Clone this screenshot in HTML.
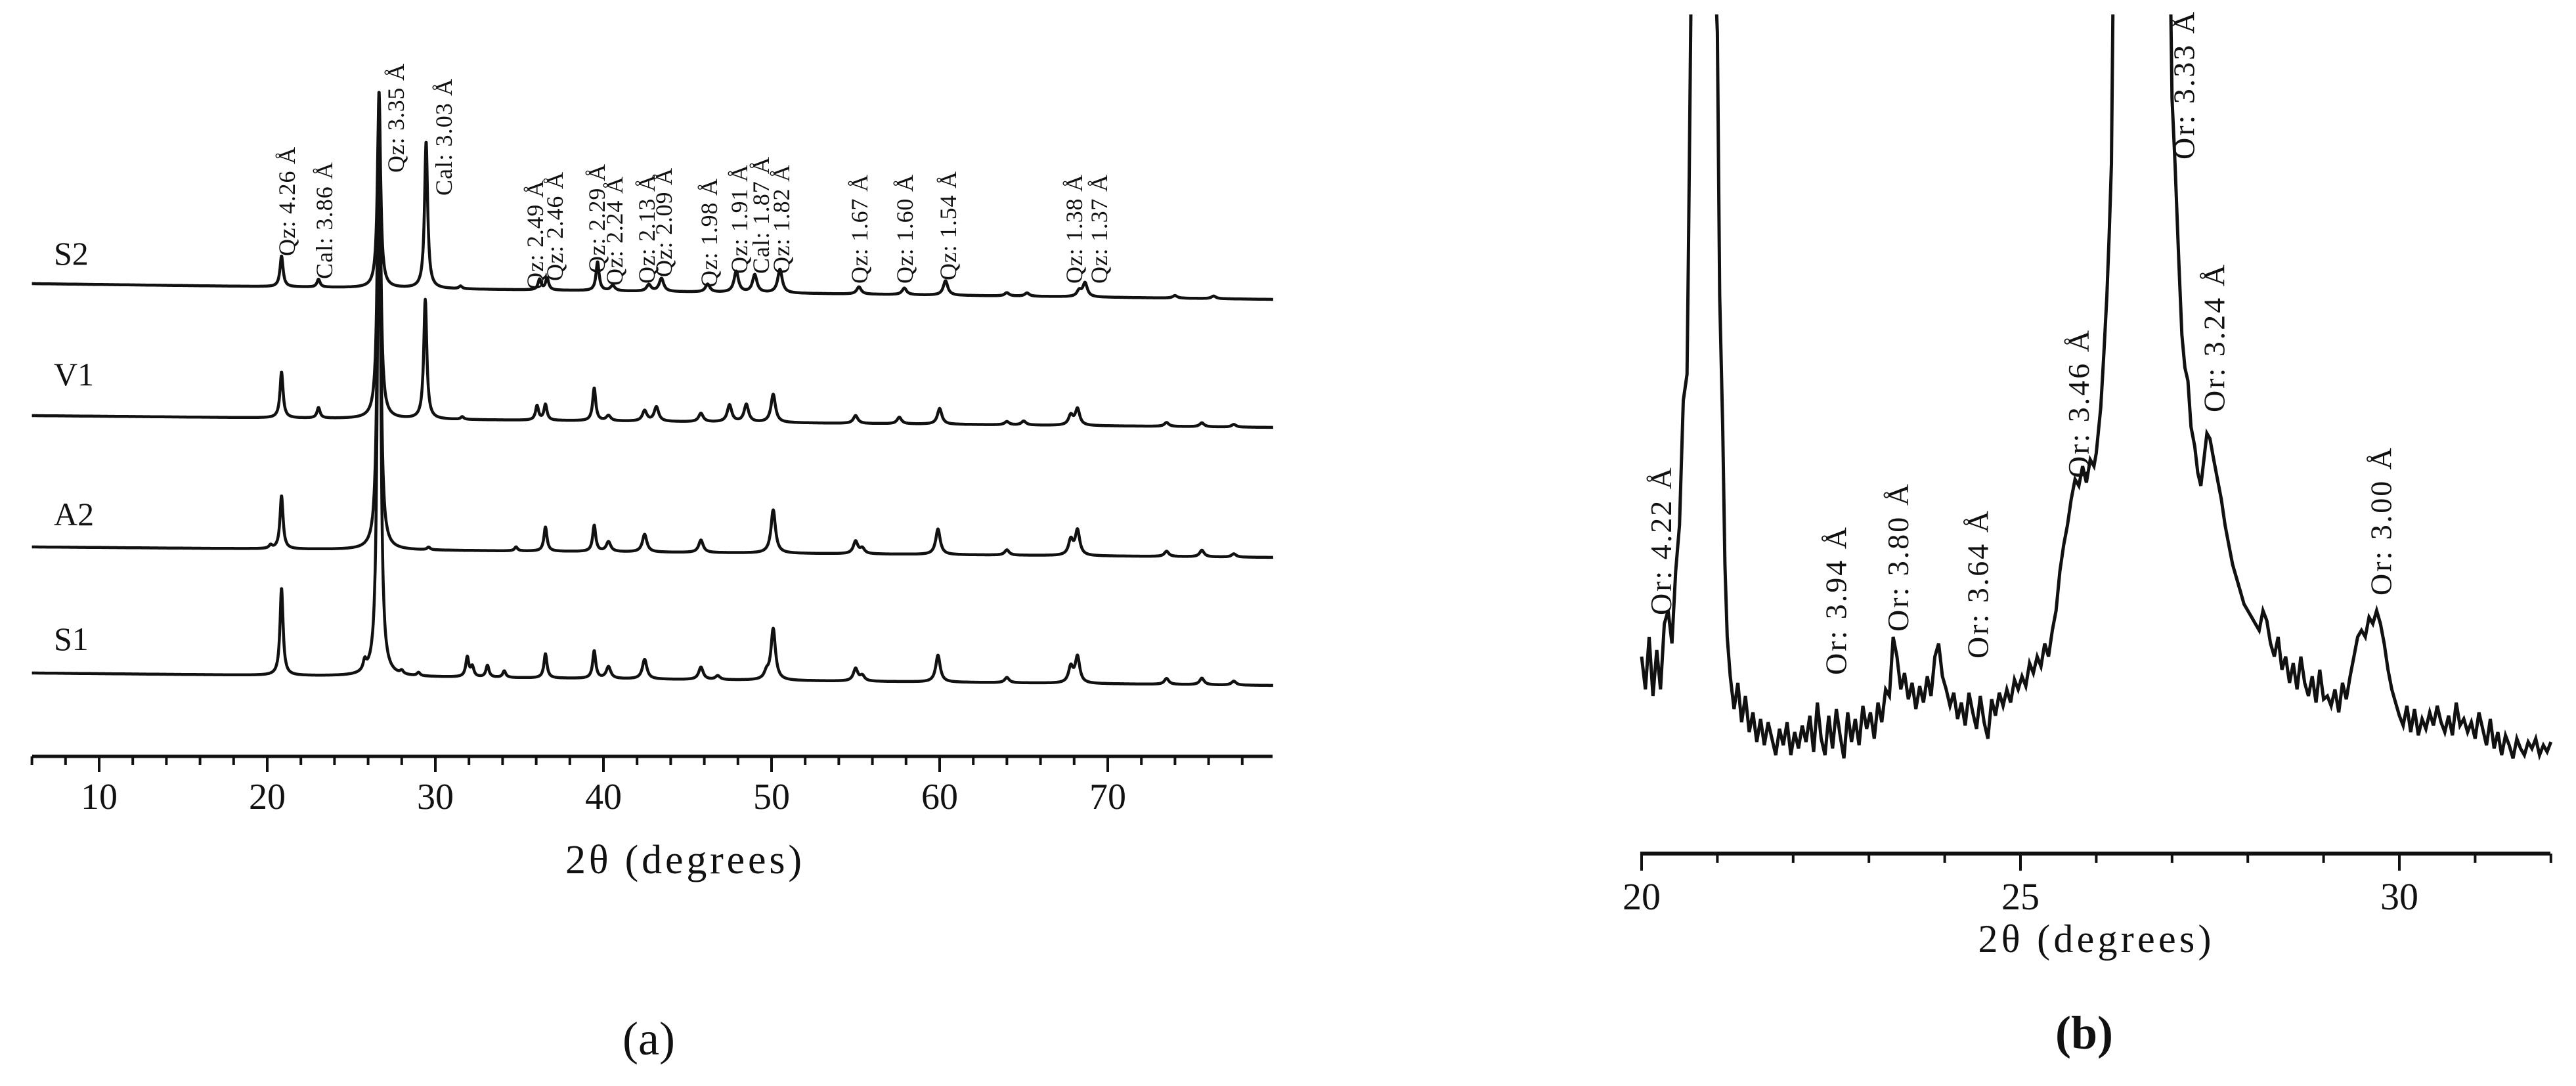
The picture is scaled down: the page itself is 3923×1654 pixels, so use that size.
<!DOCTYPE html>
<html><head><meta charset="utf-8"><title>XRD patterns</title>
<style>
html,body{margin:0;padding:0;background:#fff;}
svg{display:block;}
text{font-family:"Liberation Serif",serif;fill:#111;}
</style></head>
<body>
<svg id="fig" width="3923" height="1654" viewBox="0 0 3923 1654" xmlns="http://www.w3.org/2000/svg">
  <defs>
    <clipPath id="clipB"><rect x="2480" y="22" width="1420" height="1270"/></clipPath>
  </defs>
  <g id="panelA"></g>
  <g id="panelB"></g>
</svg>
<script>
// ---------- Panel (a) data ----------
const seriesNames = ["S2","V1","A2","S1"];
const baseStart = [432, 633, 833, 1025];
const baseEnd   = [456, 651, 849, 1044];
const labelY    = [385, 569, 782, 972];
const s2Pos = [20.85,23.05,26.65,29.45,31.5,36.2,36.65,39.65,40.55,42.7,43.45,46.2,47.9,49.0,50.5,55.2,57.9,60.35,64.0,65.2,68.3,68.65,74.0,76.3];
const s2Ht  = [47,12,300,224,4,16,18,44,8,10,20,12,32,27,36,11,10,22,5,5,9,21,4,4];
const v1Pos = [20.85,23.05,26.65,29.4,31.6,36.05,36.55,39.45,40.3,42.45,43.15,45.8,47.5,48.5,50.1,55.0,57.6,60.0,64.0,65.0,67.8,68.2,73.5,75.6,77.5];
const v1Ht  = [70,16,490,182,4,22,24,50,8,16,22,13,26,27,43,12,10,24,5,6,15,25,6,6,4];
const a2Pos = [20.2,20.85,26.65,29.6,34.8,36.55,39.45,40.3,42.45,45.8,50.1,55.0,55.4,59.9,64.0,67.8,68.2,73.5,75.6,77.5];
const a2Ht  = [5,81,690,4,6,37,40,15,27,19,66,19,8,39,8,23,38,8,10,5];
const s1Pos = [20.85,25.8,26.65,28.0,29.0,31.9,32.2,33.1,34.1,36.55,39.45,40.3,42.45,45.8,46.8,49.7,50.1,55.0,55.4,59.9,64.0,67.8,68.2,73.5,75.6,77.5];
const s1Ht  = [133,15,880,5,5,30,15,18,10,37,42,18,30,19,6,10,78,19,8,41,8,24,40,9,10,6];
const posArrays = [s2Pos, v1Pos, a2Pos, s1Pos];
const htArrays  = [s2Ht, v1Ht, a2Ht, s1Ht];
const aTicks = [6,8,10,12,14,16,18,20,22,24,26,28,30,32,34,36,38,40,42,44,46,48,50,52,54,56,58,60,62,64,66,68,70,72,74,76,78];
const aTickLabels = [10,20,30,40,50,60,70];
const peakLabels = ["Qz: 4.26 Å","Cal: 3.86 Å","Qz: 3.35 Å","Cal: 3.03 Å","Qz: 2.49 Å","Qz: 2.46 Å","Qz: 2.29 Å","Qz: 2.24 Å","Qz: 2.13 Å","Qz: 2.09 Å","Qz: 1.98 Å","Qz: 1.91 Å","Cal: 1.87 Å","Qz: 1.82 Å","Qz: 1.67 Å","Qz: 1.60 Å","Qz: 1.54 Å","Qz: 1.38 Å","Qz: 1.37 Å"];
const peakLabelPos = [21.17,23.40,27.66,30.51,35.94,37.11,39.61,40.66,42.58,43.59,46.29,48.09,49.38,50.59,55.23,57.93,60.51,68.01,69.49];
const peakLabelBase = [390,425,263,298,441,428,416,435,432,422,438,417,417,417,432,432,427,432,432];

// ---------- Panel (b) data: [2theta, intensity] ----------
const bPts = [[20.0,300],[20.05,250],[20.1,330],[20.15,240],[20.2,310],[20.25,250],[20.3,350],[20.35,370],[20.4,320],[20.45,430],[20.5,500],[20.55,690],[20.6,730],[20.62,930],[20.66,1400],[20.95,1400],[21.0,1250],[21.03,850],[21.07,650],[21.1,440],[21.13,330],[21.17,270],[21.22,220],[21.27,260],[21.32,200],[21.37,240],[21.42,185],[21.47,215],[21.52,170],[21.57,205],[21.62,165],[21.67,200],[21.72,175],[21.77,150],[21.82,190],[21.87,165],[21.92,200],[21.97,150],[22.02,185],[22.07,160],[22.12,195],[22.17,170],[22.22,210],[22.27,155],[22.32,230],[22.37,175],[22.42,150],[22.47,210],[22.52,160],[22.57,220],[22.62,180],[22.67,145],[22.72,215],[22.77,170],[22.82,205],[22.87,165],[22.92,225],[22.97,190],[23.02,215],[23.07,175],[23.12,230],[23.17,200],[23.22,250],[23.27,240],[23.32,330],[23.37,300],[23.42,250],[23.47,275],[23.52,235],[23.57,260],[23.62,220],[23.67,255],[23.72,230],[23.77,270],[23.82,240],[23.87,300],[23.92,320],[23.97,270],[24.02,250],[24.07,225],[24.12,245],[24.17,205],[24.22,230],[24.27,195],[24.32,245],[24.37,215],[24.42,190],[24.47,240],[24.52,200],[24.57,175],[24.62,235],[24.67,210],[24.72,245],[24.77,225],[24.82,250],[24.87,230],[24.92,265],[24.97,250],[25.02,270],[25.07,255],[25.12,290],[25.17,275],[25.22,300],[25.27,285],[25.32,320],[25.37,300],[25.42,340],[25.47,370],[25.52,430],[25.57,470],[25.62,500],[25.67,540],[25.72,570],[25.77,560],[25.82,590],[25.87,565],[25.92,600],[25.97,590],[26.0,610],[26.06,680],[26.1,760],[26.14,850],[26.17,940],[26.2,1050],[26.23,1400],[26.97,1400],[27.0,1150],[27.04,1050],[27.09,900],[27.13,790],[27.17,740],[27.21,720],[27.25,650],[27.3,620],[27.34,580],[27.38,560],[27.42,600],[27.46,640],[27.5,632],[27.55,600],[27.6,570],[27.65,540],[27.7,500],[27.75,470],[27.8,440],[27.85,420],[27.9,400],[27.95,380],[28.0,370],[28.05,360],[28.1,350],[28.15,340],[28.2,370],[28.25,355],[28.3,320],[28.35,300],[28.4,330],[28.45,280],[28.5,300],[28.55,260],[28.6,290],[28.65,250],[28.7,300],[28.75,260],[28.8,240],[28.85,270],[28.9,230],[28.95,280],[29.0,235],[29.05,240],[29.1,225],[29.15,250],[29.2,215],[29.25,260],[29.3,235],[29.35,270],[29.4,300],[29.45,330],[29.5,340],[29.55,330],[29.6,360],[29.65,350],[29.7,370],[29.75,350],[29.8,320],[29.85,280],[29.9,250],[29.95,230],[30.0,210],[30.05,195],[30.1,225],[30.15,185],[30.2,220],[30.25,180],[30.3,205],[30.35,190],[30.4,215],[30.45,195],[30.5,225],[30.55,200],[30.6,185],[30.65,210],[30.7,180],[30.75,230],[30.8,195],[30.85,205],[30.9,185],[30.95,200],[31.0,175],[31.05,215],[31.1,190],[31.15,165],[31.2,205],[31.25,160],[31.3,185],[31.35,150],[31.4,180],[31.45,165],[31.5,145],[31.55,175],[31.6,160],[31.65,150],[31.7,170],[31.75,160],[31.8,175],[31.85,150],[31.9,165],[31.95,155],[32.0,170]];
const bTicks = [20,21,22,23,24,25,26,27,28,29,30,31,32];
const bTickLabels = [20,25,30];
const bLabels = ["Or: 4.22 Å","Or: 3.94 Å","Or: 3.80 Å","Or: 3.64 Å","Or: 3.46 Å","Or: 3.33 Å","Or: 3.24 Å","Or: 3.00 Å"];
const bLabelX = [20.26,22.57,23.39,24.44,25.77,27.16,27.56,29.76];
const bLabelBase = [937,1028,962,1003,728,243,628,907];

// ---------- helpers ----------
const NS = "http://www.w3.org/2000/svg";
function mk(tag, attrs, parent){
  const e = document.createElementNS(NS, tag);
  for (const k in attrs) e.setAttribute(k, attrs[k]);
  parent.appendChild(e);
  return e;
}
const gA = document.getElementById("panelA");
const gB = document.getElementById("panelB");

const xA = t => 151 + (t - 10) * 25.6;
const aAxisY = 1152;
const xB = t => 2500 + (t - 20) * 115.4;
const yB = v => 1300 - v;

// ---------- Panel (a) ----------
const axA = mk("line", {x1: 49, y1: aAxisY, x2: 1938, y2: aAxisY, stroke: "#111", "stroke-width": 5}, gA);


aTicks.forEach(t => {
  const major = t % 10 === 0;
  const tk = mk("line", {x1: xA(t), y1: aAxisY, x2: xA(t), y2: aAxisY + (major ? 24 : 13), stroke: "#111", "stroke-width": 4}, gA);
  
  
});
aTickLabels.forEach(t => {
  const tl = mk("text", {x: xA(t), y: 1232, "text-anchor": "middle", "font-size": 56}, gA);
  tl.textContent = t;
  
  
});
const titA = mk("text", {x: 1041, y: 1330, "text-anchor": "middle", "font-size": 62, textLength: 360}, gA);
titA.textContent = "2θ (degrees)";



seriesNames.forEach((name, i) => {
  const pos = posArrays[i], ht = htArrays[i];
  let d = "";
  for (let t = 6; t <= 79.85; t += 0.02) {
    let base = baseStart[i] + (baseEnd[i] - baseStart[i]) * (t - 6) / 73.8;
    let v = 0;
    for (let k = 0; k < pos.length; k++) {
      const w = pos[k] < 40 ? 0.11 : 0.16;
      const dx = (t - pos[k]) / w;
      v += ht[k] / (1 + dx * dx);
    }
    d += (d ? "L" : "M") + xA(t).toFixed(1) + "," + (base - v).toFixed(1);
  }
  const p = mk("path", {d: d, fill: "none", stroke: "#111", "stroke-width": 4.5, "stroke-linejoin": "round"}, gA);
  
  
  const lb = mk("text", {x: 82, y: labelY[i] + 18, "font-size": 50}, gA);
  lb.textContent = name;
  
  
});

peakLabels.forEach((s, i) => {
  const x = xA(peakLabelPos[i]) + 12, y = peakLabelBase[i];
  const tl = mk("text", {x: x, y: y, "font-size": 36, transform: "rotate(-90 " + x + " " + y + ")", textLength: s.startsWith("Cal") ? 178 : 166}, gA);
  tl.textContent = s;
  
  
});
const capA = mk("text", {x: 988, y: 1606, "text-anchor": "middle", "font-size": 72}, gA);
capA.textContent = "(a)";



// ---------- Panel (b) ----------
const axB = mk("line", {x1: 2498, y1: 1300, x2: 3884, y2: 1300, stroke: "#111", "stroke-width": 6}, gB);


bTicks.forEach(t => {
  const major = t % 5 === 0;
  const tk = mk("line", {x1: xB(t), y1: 1300, x2: xB(t), y2: 1300 + (major ? 26 : 14), stroke: "#111", "stroke-width": 4}, gB);
  
  
});
bTickLabels.forEach(t => {
  const tl = mk("text", {x: xB(t), y: 1385, "text-anchor": "middle", "font-size": 58}, gB);
  tl.textContent = t;
  
  
});
const titB = mk("text", {x: 3190, y: 1450, "text-anchor": "middle", "font-size": 60, textLength: 355}, gB);
titB.textContent = "2θ (degrees)";



let dB = "";
bPts.forEach((p, i) => { dB += (i ? "L" : "M") + xB(p[0]).toFixed(1) + "," + yB(p[1]).toFixed(1); });
const pB = mk("path", {d: dB, fill: "none", stroke: "#111", "stroke-width": 5, "stroke-linejoin": "miter", "clip-path": "url(#clipB)"}, gB);



bLabels.forEach((s, i) => {
  const x = xB(bLabelX[i]) + 15, y = bLabelBase[i];
  const tl = mk("text", {x: x, y: y, "font-size": 46, transform: "rotate(-90 " + x + " " + y + ")", textLength: 225}, gB);
  tl.textContent = s;
  
  
});
const capB = mk("text", {x: 3174, y: 1597, "text-anchor": "middle", "font-size": 72, "font-weight": "bold"}, gB);
capB.textContent = "(b)";


</script>
</body></html>
